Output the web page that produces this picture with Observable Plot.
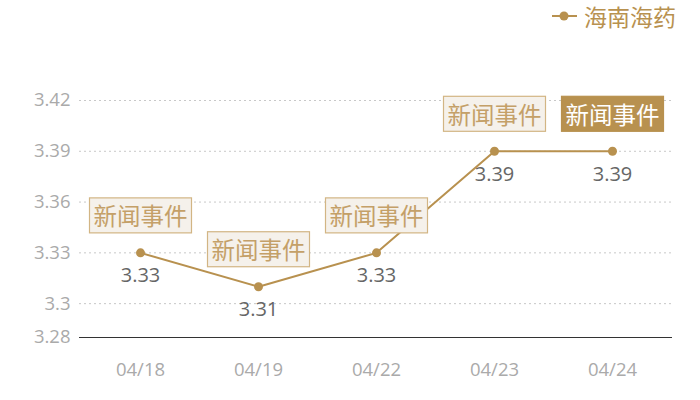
<!DOCTYPE html>
<html>
<head>
<meta charset="utf-8">
<script src="https://cdn.jsdelivr.net/npm/d3@7"></script>
<script src="https://cdn.jsdelivr.net/npm/@observablehq/plot@0.6"></script>
<style>
  html, body { margin: 0; padding: 0; background: #fff; }
  #wrap { position: relative; width: 700px; height: 400px; font-family: "Open Sans", "Noto Sans CJK SC", sans-serif; }
  #legend { position: absolute; top: -2px; right: 24px; display: flex; align-items: center; color: #b8914f; font-size: 23px; font-family: "Noto Sans CJK SC", sans-serif; line-height: 36px; }
  #legend svg { margin-right: 7px; }
</style>
</head>
<body>
<div id="wrap">
  <div id="legend"><svg width="25" height="12"><line x1="0" y1="6" x2="25" y2="6" stroke="#b8914f" stroke-width="2"/><circle cx="12" cy="6" r="4.5" fill="#b8914f"/></svg><span>海南海药</span></div>
</div>
<script>
const dates = ["04/18", "04/19", "04/22", "04/23", "04/24"];
const values = [3.33, 3.31, 3.33, 3.39, 3.39];
const eventLabels = ["新闻事件", "新闻事件", "新闻事件", "新闻事件", "新闻事件"];
const highlighted = [false, false, false, false, true];
const yTicks = [3.28, 3.3, 3.33, 3.36, 3.39, 3.42];
const gridTicks = [3.3, 3.33, 3.36, 3.39, 3.42];
const seriesName = "海南海药";

const data = dates.map((d, i) => ({date: d, value: values[i], label: eventLabels[i], hl: highlighted[i]}));
const gold = "#b8914f";

const chart = Plot.plot({
  width: 700,
  height: 400,
  marginLeft: 79,
  marginRight: 28,
  marginTop: 100,
  marginBottom: 63,
  style: {fontFamily: "'Open Sans', 'Noto Sans CJK SC', sans-serif", background: "transparent"},
  x: {type: "point", domain: dates, padding: 0.5},
  y: {domain: [3.28, 3.42]},
  marks: [
    Plot.gridY(gridTicks, {stroke: "#c8c8c8", strokeOpacity: 1, strokeDasharray: "2,3"}),
    Plot.ruleY([3.28], {stroke: "#333", strokeWidth: 1}),
    Plot.axisY(yTicks, {tickSize: 0, tickPadding: 9, fontSize: 18.5, fill: "#aaa", tickFormat: d => String(d), label: null}),
    Plot.axisX({tickSize: 0, tickPadding: 25, fontSize: 18.5, fill: "#aaa", label: null}),
    Plot.line(data, {x: "date", y: "value", stroke: gold, strokeWidth: 2}),
    Plot.dot(data, {x: "date", y: "value", fill: gold, r: 4.5}),
    Plot.text(data, {x: "date", y: "value", text: d => String(d.value), dy: 23, fontSize: 20, fill: "#666"}),
    Plot.text(data, {x: "date", y: "value", text: "label", dy: -35, fontSize: 23.5, lineAnchor: "middle",
      fill: d => d.hl ? "#ffffff" : "#c4a068", className: "evt", fontFamily: "'Noto Sans CJK SC', sans-serif"})
  ]
});

document.getElementById("wrap").prepend(chart);

// add boxes behind the event labels
const g = [...chart.querySelectorAll("g")].find(n => (n.getAttribute("class") || "").includes("evt"));
if (g) {
  const texts = [...g.querySelectorAll("text")];
  texts.forEach((t, i) => {
    const bb = t.getBBox();
    const ctm = t.getAttribute("transform");
    const rect = document.createElementNS("http://www.w3.org/2000/svg", "rect");
    const w = 102, h = 35;
    const cx = bb.x + bb.width / 2, cy = bb.y + bb.height / 2;
    rect.setAttribute("x", cx - w / 2);
    rect.setAttribute("y", cy - h / 2);
    rect.setAttribute("width", w);
    rect.setAttribute("height", h);
    if (ctm) rect.setAttribute("transform", ctm);
    const hl = data[i].hl;
    rect.setAttribute("fill", hl ? gold : "#f5f1eb");
    rect.setAttribute("stroke", hl ? gold : "#d2b584");
    rect.setAttribute("stroke-width", 1.2);
    g.insertBefore(rect, t);
  });
}
</script>
</body>
</html>
